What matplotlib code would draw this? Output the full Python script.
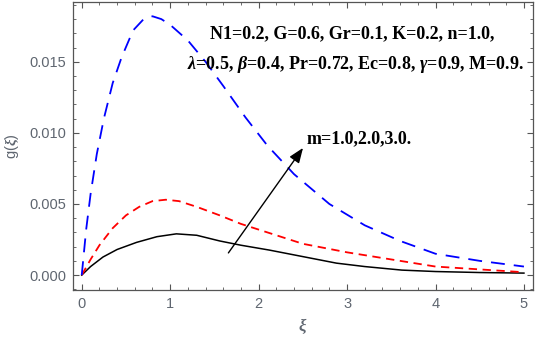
import matplotlib
matplotlib.use("Agg")
import matplotlib.pyplot as plt
from matplotlib.ticker import MultipleLocator

plt.rcParams['mathtext.fontset'] = 'custom'
plt.rcParams['mathtext.rm'] = 'Liberation Serif:bold'
plt.rcParams['mathtext.it'] = 'Liberation Serif:italic:bold'
plt.rcParams['lines.scale_dashes'] = False

# m = 1.0 (black), 2.0 (red), 3.0 (blue)
xi_m1 = [0, 0.1, 0.24, 0.4, 0.62, 0.85, 1.07, 1.3, 1.56, 1.8, 2.12, 2.5, 2.88, 3.2, 3.62, 4.0, 4.5, 5.0]
g_m1 = [0, 0.0006, 0.00127, 0.0018, 0.0023, 0.0027, 0.0029, 0.0028, 0.0024, 0.0021, 0.00176, 0.0013,
        0.00084, 0.0006, 0.00035, 0.00025, 0.00018, 0.00014]

xi_m2 = [0, 0.1, 0.2, 0.35, 0.5, 0.65, 0.8, 0.95, 1.1, 1.3, 1.56, 1.8, 2.1, 2.5, 3.0, 3.4, 4.0, 4.5, 5.0]
g_m2 = [0, 0.0011, 0.0021, 0.0033, 0.0042, 0.0048, 0.0052, 0.0053, 0.0052, 0.0048, 0.0042, 0.0036,
        0.0030, 0.0022, 0.0016, 0.0012, 0.0006, 0.0004, 0.0002]

xi_m3 = [0, 0.05, 0.1, 0.17, 0.25, 0.35, 0.45, 0.58, 0.7, 0.8, 0.9, 1.0, 1.2, 1.4, 1.6, 1.85, 2.1,
         2.4, 2.8, 3.2, 3.6, 4.0, 4.5, 5.0]
g_m3 = [0, 0.0032, 0.0057, 0.0085, 0.0110, 0.0135, 0.0153, 0.0172, 0.0180, 0.0182, 0.0180, 0.0176,
        0.0165, 0.0150, 0.0133, 0.0111, 0.0091, 0.0071, 0.0050, 0.0035, 0.0024, 0.0015, 0.0010, 0.0006]

params_line1 = "N1=0.2, G=0.6, Gr=0.1, K=0.2, n=1.0,"
params_line2 = r"$\lambda$=0.5, $\beta$=0.4, Pr=0.72, Ec=0.8, $\gamma$=0.9, M=0.9."
arrow_label = "m=1.0,2.0,3.0."

tick_grey = '#5f6670'
axis_grey = '#555555'

fig = plt.figure(figsize=(5.36, 3.40), dpi=100)
ax = fig.add_axes([0.136, 0.147, 0.858, 0.847])

ax.plot(xi_m1, g_m1, color='black', lw=1.1)
ax.plot(xi_m2, g_m2, color='red', lw=1.3, dashes=(6, 4))
ax.plot(xi_m3, g_m3, color='blue', lw=1.3, dashes=(10, 6.5))

ax.set_xlim(-0.1, 5.1)
ax.set_ylim(-0.00105, 0.0192)

ax.xaxis.set_major_locator(MultipleLocator(1))
ax.xaxis.set_minor_locator(MultipleLocator(0.2))
ax.yaxis.set_major_locator(MultipleLocator(0.005))
ax.yaxis.set_minor_locator(MultipleLocator(0.001))
ax.yaxis.set_major_formatter(plt.FuncFormatter(lambda v, p: f"{v:.3f}"))

ax.tick_params(which='both', direction='in', top=True, right=True, color=axis_grey,
               labelcolor=tick_grey, labelsize=10.5, labelfontfamily='Liberation Sans')
ax.tick_params(which='major', length=4.5, width=0.8, pad=5)
ax.tick_params(which='minor', length=2.5, width=0.6)
for s in ax.spines.values():
    s.set_color(axis_grey)
    s.set_linewidth(0.9)

ax.set_xlabel(r"$\xi$", color=tick_grey, fontsize=12, labelpad=4, family='DejaVu Serif')
ax.set_ylabel(r"g($\xi$)", color=tick_grey, fontsize=10.5, labelpad=6, family='Liberation Sans')

ax.text(0.298, 0.875, params_line1, transform=ax.transAxes, family='Liberation Serif',
        weight='bold', fontsize=13, va='baseline')
ax.text(0.249, 0.768, params_line2, transform=ax.transAxes, family='Liberation Serif',
        weight='bold', fontsize=13, va='baseline')

ax.annotate("", xy=(2.52, 0.0091), xytext=(1.64, 0.0014),
            arrowprops=dict(arrowstyle='-|>,head_length=0.9,head_width=0.35', color='black', lw=1.0))
ax.text(2.54, 0.0093, arrow_label, family='Liberation Serif', weight='bold', fontsize=13, va='baseline')

fig.savefig("out.png", dpi=100)
